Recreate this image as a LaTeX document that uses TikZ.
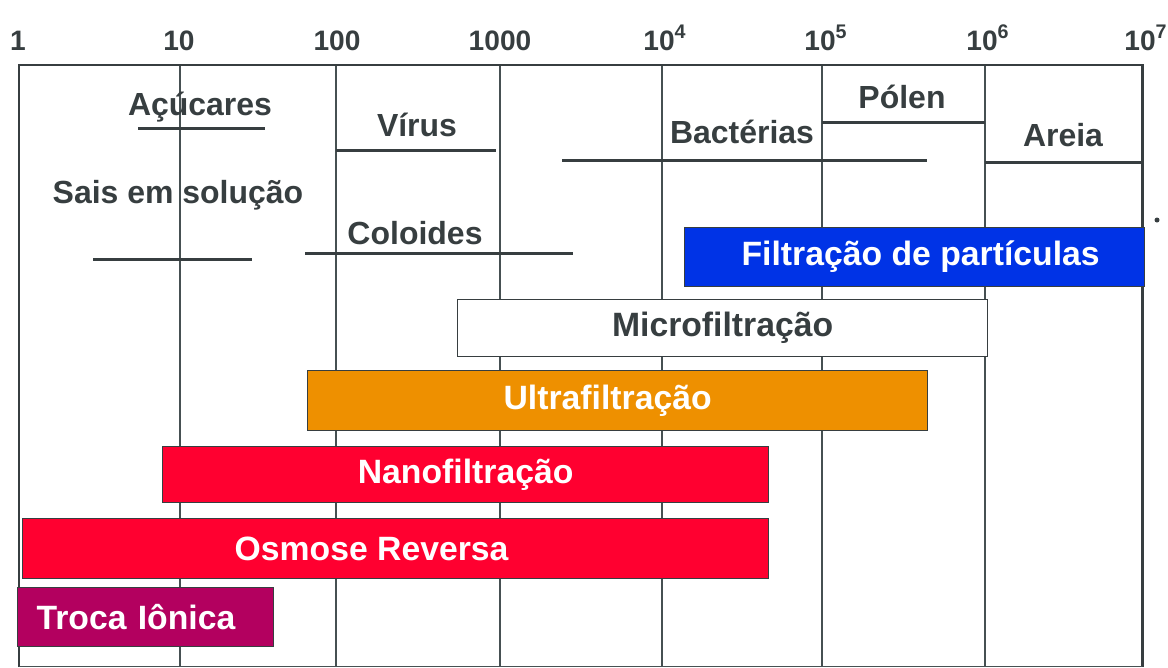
\documentclass[tikz,border=0pt]{standalone}
\usepackage{fontspec}
\setmainfont{Liberation Sans}
\usepackage{xcolor}
\definecolor{gridgray}{RGB}{70,80,82}
\definecolor{darkgray}{RGB}{55,62,64}
\definecolor{barblue}{RGB}{0,51,230}
\definecolor{barorange}{RGB}{238,144,0}
\definecolor{barred}{RGB}{255,0,48}
\definecolor{barpurple}{RGB}{179,0,95}
\usepackage{tikz}
\newcommand{\ticksize}{\fontsize{16}{18}\selectfont\bfseries}
\newcommand{\itemsize}{\fontsize{18.2}{20}\selectfont\bfseries}
\newcommand{\barsize}{\fontsize{19.2}{21}\selectfont\bfseries}
\newcommand{\px}{0.02cm}
\tikzset{
    tick/.style={anchor=base, text=darkgray, font=\ticksize, inner sep=0pt},
    item/.style={text=darkgray, font=\itemsize, inner sep=0pt},
    frame/.style={draw=darkgray, line width=1.7pt},
    gridline/.style={draw=gridgray, line width=1.1pt},
    sizeline/.style={draw=darkgray, line width=1.7pt},
    barbox/.style n args={2}{anchor=north west, draw=darkgray, line width=0.7pt,
        rectangle, inner sep=0pt, text=white, font=\barsize,
        minimum width=#1*\px, minimum height=#2*\px}
}

\begin{document}
\begin{tikzpicture}[x=\px, y=-\px]
    \useasboundingbox (0,0) rectangle (1168,667);

    % scale
    \node[tick] (t0) at (18,50) {1};
    \node[tick] (t1) at (179,50) {10};
    \node[tick] (t2) at (337,50) {100};
    \node[tick] (t3) at (500,50) {1000};
    \node[tick] (t4) at (665,50) {10\textsuperscript{4}};
    \node[tick] (t5) at (826,50) {10\textsuperscript{5}};
    \node[tick] (t6) at (988,50) {10\textsuperscript{6}};
    \node[tick] (t7) at (1146,50) {10\textsuperscript{7}};

    % grid
    \draw[gridline] (180,65) -- (180,667);
    \draw[gridline] (336,65) -- (336,667);
    \draw[gridline] (500,65) -- (500,667);
    \draw[gridline] (662,65) -- (662,667);
    \draw[gridline] (822,65) -- (822,667);
    \draw[gridline] (985,65) -- (985,667);
    \draw[frame] (19,667) -- (19,65) -- (1142,65) -- (1142,667);
    \draw[gridline, line width=0.6pt] (19,666.5) -- (1142,666.5);
    \fill[darkgray] (1157,220) circle (2.5);

    % particles
    \node[item] (acucar) at (200,107) {Açúcares};
    \draw[sizeline] (138,128) -- (265,128);
    \node[item] (virus) at (417,125) {Vírus};
    \draw[sizeline] (336,150) -- (496,150);
    \node[item] (sais) at (178,195) {Sais em solução};
    \draw[sizeline] (93,259) -- (252,259);
    \node[item] (coloide) at (415,233) {Coloides};
    \draw[sizeline] (305,253) -- (573,253);
    \node[item] (bacteria) at (742,132) {Bactérias};
    \draw[sizeline] (562,160) -- (927,160);
    \node[item] (polen) at (902,97) {Pólen};
    \draw[sizeline] (822,122) -- (985,122);
    \node[item] (areia) at (1063,135) {Areia};
    \draw[sizeline] (985,162) -- (1142,162);

    % processes
    \node[barbox={460}{59}, fill=barblue] (fp) at (684,227) {\hspace{0.24cm}Filtração de partículas};
    \node[barbox={530}{57}, fill=white, text=darkgray] (mf) at (457,299) {Microfiltração};
    \node[barbox={620}{60}, fill=barorange] (uf) at (307,370) {Ultrafiltração\hspace{0.4cm}\null};
    \node[barbox={606}{56}, fill=barred] (nf) at (162,446) {Nanofiltração};
    \node[barbox={746}{60}, fill=barred] (or) at (22,518) {Osmose Reversa\hspace{0.96cm}\null};
    \node[barbox={256}{59}, fill=barpurple, align=left, inner xsep=19*\px,
        text width=218*\px] (ti) at (17,587) {Troca Iônica};
\end{tikzpicture}
\end{document}
